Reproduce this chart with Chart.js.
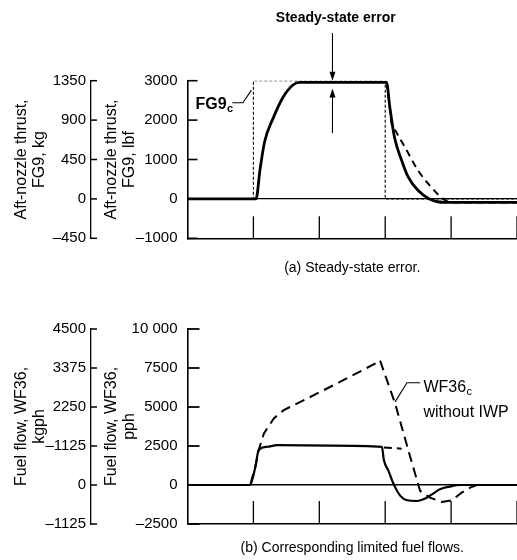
<!DOCTYPE html>
<html>
<head>
<meta charset="utf-8">
<script src="https://cdn.jsdelivr.net/npm/chart.js@4.4.0/dist/chart.umd.min.js"></script>
<style>
  html, body { margin: 0; padding: 0; background: #fff; }
  #wrap { position: relative; width: 517px; height: 560px; overflow: hidden; }
  canvas { position: absolute; left: 0; }
</style>
</head>
<body>
<div id="wrap">
  <canvas id="cTop" width="517" height="280" style="top:0"></canvas>
  <canvas id="cBot" width="517" height="280" style="top:280px"></canvas>
</div>
<script>
'use strict';

// ── Values (time in tick units) ──────────────────────────────────────────────

// (a) aft-nozzle thrust, lbf
var cmdTime       = [0, 1, 1, 3, 3, 5];
var cmdThrust     = [0, 0, 3000, 3000, 0, 0];
var iwpTime       = [0, 1.04, 1.10, 1.17, 1.30, 1.45, 1.60, 1.70, 2.40, 3.02, 3.07, 3.14, 3.25, 3.35, 3.50, 3.67, 3.90, 5];
var iwpThrust     = [0, 0, 737, 1450, 2050, 2580, 2890, 2955, 2955, 2955, 2330, 1570, 975, 550, 211, 0, -90, -90];
var noIwpTime     = [3.02, 3.07, 3.09, 3.17, 3.30, 3.50, 3.70, 3.88, 4.00, 5];
var noIwpThrust   = [2955, 2330, 1990, 1695, 1313, 720, 295, 0, -90, -90];

// (b) fuel flow, pph
var fuelTime      = [0, 0.95, 1.03, 1.08, 1.21, 1.36, 2.17, 2.95, 2.98, 3.05, 3.13, 3.23, 3.33, 3.48, 3.58, 3.71, 3.83, 3.98, 4.14, 5];
var fuelIwp       = [0, 0, 1170, 2240, 2450, 2550, 2520, 2440, 1600, 900, 40, -700, -980, -1025, -920, -600, -270, -100, 0, 0];
var cmdFuelTime   = [0, 0.95, 1.03, 1.08, 1.16, 1.31, 1.46, 1.82, 2.32, 2.90, 2.92, 3.15, 3.38, 3.53, 3.68, 3.86, 4.01, 4.16, 4.29, 4.39, 5];
var cmdFuelNoIwp  = [0, 0, 1170, 2240, 3310, 4270, 4800, 5550, 6620, 7900, 8000, 5230, 1800, -380, -810, -1090, -980, -490, -170, 0, 0];
var fuelTailTime  = [2.98, 3.25];
var fuelTail      = [2400, 2330];

// tick labels as printed
var lbfTicks  = ['\u20131000', '0', '1000', '2000', '3000'];
var kgTicksA  = ['\u2013450', '0', '450', '900', '1350'];
var pphTicks  = ['\u20132500', '0', '2500', '5000', '7500', '10 000'];
var kgphTicks = ['\u20131125', '0', '\u20131125', '2250', '3375', '4500'];

// ── Styling ─────────────────────────────────────────────────────────────────

var SANS   = "'Liberation Sans', Arial, sans-serif";
var NARROW = "'Liberation Sans Narrow', 'Arial Narrow', 'Liberation Sans', Arial, sans-serif";
Chart.defaults.color = '#000';

function pts(xs, ys) {
  return xs.map(function (x, i) { return { x: x, y: ys[i] }; });
}
function fixW(w) { return function (s) { s.width = w; s.paddingTop = 0; s.paddingBottom = 0; }; }
function fixH(h) { return function (s) { s.height = h; s.paddingLeft = 0; s.paddingRight = 0; }; }
function fromList(list) { return function (v, i) { return list[i]; }; }

// short tick marks pointing into the plot / towards the right
var inwardTicks = {
  id: 'inwardTicks',
  afterDraw: function (chart, args, opts) {
    var ctx = chart.ctx;
    ctx.save();
    ctx.strokeStyle = '#000';
    Object.keys(chart.scales).forEach(function (id) {
      var s = chart.scales[id];
      var len = opts.len[id];
      if (!len) return;
      ctx.lineWidth = opts.width[id] || 1.4;
      s.ticks.forEach(function (t) {
        var p = s.getPixelForValue(t.value);
        ctx.beginPath();
        if (s.isHorizontal()) {
          if (t.value === s.min) return;
          ctx.moveTo(p, s.top);
          ctx.lineTo(p, s.top - len);
        } else {
          ctx.moveTo(s.right, p);
          ctx.lineTo(s.right + len, p);
        }
        ctx.stroke();
      });
    });
    ctx.restore();
  }
};

// labels, leader lines and arrows placed in data units
var notesPlugin = {
  id: 'notes',
  afterDraw: function (chart, args, opts) {
    var ctx = chart.ctx, sx = chart.scales.x, sy = chart.scales.y;
    function X(t) { return sx.getPixelForValue(t); }
    function Y(v) { return sy.getPixelForValue(v); }
    ctx.save();
    ctx.fillStyle = '#000';
    ctx.strokeStyle = '#000';
    (opts.items || []).forEach(function (n) {
      if (n.kind === 'text') {
        ctx.font = n.font;
        ctx.textAlign = n.align || 'left';
        ctx.textBaseline = 'middle';
        var x = X(n.t), y = Y(n.v);
        ctx.fillText(n.text, x, y);
        if (n.sub) {
          var w = ctx.measureText(n.text).width;
          ctx.font = n.subFont;
          ctx.textAlign = 'left';
          ctx.fillText(n.sub, (n.align === 'center' ? x + w / 2 : x + w) + 0.5, y + 5);
        }
      } else if (n.kind === 'path') {
        ctx.lineWidth = 1.1;
        ctx.beginPath();
        n.pts.forEach(function (p, i) {
          if (i === 0) ctx.moveTo(X(p[0]), Y(p[1])); else ctx.lineTo(X(p[0]), Y(p[1]));
        });
        ctx.stroke();
      } else if (n.kind === 'arrow') {
        var ax = X(n.t), y0 = Y(n.from), y1 = Y(n.to), dir = y1 > y0 ? 1 : -1;
        ctx.lineWidth = 1.1;
        ctx.beginPath();
        ctx.moveTo(ax, y0);
        ctx.lineTo(ax, y1 - dir * 6);
        ctx.stroke();
        ctx.beginPath();
        ctx.moveTo(ax, y1);
        ctx.lineTo(ax - 3, y1 - dir * 9);
        ctx.lineTo(ax + 3, y1 - dir * 9);
        ctx.closePath();
        ctx.fill();
      }
    });
    ctx.restore();
  }
};

function yTitle(text, pad) {
  return { display: true, text: text, font: { family: SANS, size: 16, lineHeight: 1.1 }, padding: { top: pad, bottom: 0 } };
}
function xTitle(text) {
  return { display: true, text: text, font: { family: NARROW, size: 14, lineHeight: 1.2 }, padding: { top: 0, bottom: 3 } };
}
function zeroLine(ctx) {
  return ctx.tick && ctx.tick.value === 0 ? '#000' : 'rgba(0,0,0,0)';
}

function baseScales(o) {
  return {
    x: {
      type: 'linear', min: 0, max: 5,
      ticks: { display: false, stepSize: 1 },
      grid: { display: false },
      border: { display: true, color: '#000', width: 1.6 },
      title: xTitle(o.caption),
      afterFit: fixH(o.xHeight)
    },
    yOuter: {
      position: 'left', weight: 1, min: o.outer[0], max: o.outer[1],
      ticks: { stepSize: o.outer[2], padding: 5, callback: fromList(o.outerTicks), font: { family: NARROW, size: 15 } },
      grid: { drawOnChartArea: false, drawTicks: false },
      border: { color: '#000', width: 1.3 },
      title: yTitle(o.outerTitle, 13),
      afterFit: fixW(91)
    },
    y: {
      position: 'left', weight: 0, min: o.inner[0], max: o.inner[1],
      ticks: { stepSize: o.inner[2], padding: 10, callback: fromList(o.innerTicks), font: { family: NARROW, size: 15 } },
      grid: { drawOnChartArea: true, drawTicks: false, color: zeroLine, lineWidth: o.zeroWidth },
      border: { color: '#000', width: 1.6 },
      title: yTitle(o.innerTitle, 12),
      afterFit: fixW(96.5)
    }
  };
}

function line(data, width, dash, smooth) {
  return {
    data: data, xAxisID: 'x', yAxisID: 'y',
    borderColor: '#000', borderWidth: width, borderDash: dash || [],
    pointRadius: 0, fill: false, tension: 0,
    cubicInterpolationMode: smooth ? 'monotone' : 'default'
  };
}

// ── (a) Steady-state error ──────────────────────────────────────────────────

new Chart(document.getElementById('cTop'), {
  type: 'line',
  data: {
    datasets: [
      line(pts(noIwpTime, noIwpThrust), 2, [7, 5], true),
      line(pts(iwpTime, iwpThrust), 2.8, [], true),
      line(pts(cmdTime, cmdThrust), 1.1, [3, 2], false)
    ]
  },
  options: {
    responsive: false,
    animation: false,
    layout: { padding: { top: 80.7, right: 0, bottom: 0, left: 0 } },
    plugins: {
      legend: { display: false },
      tooltip: { enabled: false },
      inwardTicks: { len: { x: 22, y: 10, yOuter: 6 }, width: { x: 1.3, y: 1.6, yOuter: 1.5 } },
      notes: {
        items: [
          { kind: 'text', t: 2.25, v: 4600, text: 'Steady-state error', align: 'center', font: 'bold 14px ' + SANS },
          { kind: 'arrow', t: 2.20, from: 4210, to: 3000 },
          { kind: 'arrow', t: 2.20, from: 1670, to: 2800 },
          { kind: 'text', t: 0.12, v: 2400, text: 'FG9', sub: 'c', font: 'bold 16px ' + SANS, subFont: 'bold 11px ' + SANS },
          { kind: 'path', pts: [[0.68, 2440], [0.84, 2440], [0.97, 2760]] }
        ]
      }
    },
    scales: baseScales({
      caption: '(a) Steady-state error.', xHeight: 41.7, zeroWidth: 1.2,
      outer: [-450, 1350, 450], outerTicks: kgTicksA, outerTitle: ['Aft-nozzle thrust,', 'FG9, kg'],
      inner: [-1000, 3000, 1000], innerTicks: lbfTicks, innerTitle: ['Aft-nozzle thrust,', 'FG9, lbf']
    })
  },
  plugins: [inwardTicks, notesPlugin]
});

// ── (b) Corresponding limited fuel flows ────────────────────────────────────

new Chart(document.getElementById('cBot'), {
  type: 'line',
  data: {
    datasets: [
      line(pts(cmdFuelTime, cmdFuelNoIwp), 2, [10, 6], false),
      line(pts(fuelTailTime, fuelTail), 2, [8, 5], false),
      line(pts(fuelTime, fuelIwp), 2.2, [], true)
    ]
  },
  options: {
    responsive: false,
    animation: false,
    layout: { padding: { top: 49, right: 0, bottom: 0, left: 0 } },
    plugins: {
      legend: { display: false },
      tooltip: { enabled: false },
      inwardTicks: { len: { x: 23, y: 12, yOuter: 6 }, width: { x: 1.3, y: 1.8, yOuter: 1.5 } },
      notes: {
        items: [
          { kind: 'text', t: 3.58, v: 6270, text: 'WF36', sub: 'c', font: '16px ' + SANS, subFont: '11px ' + SANS },
          { kind: 'text', t: 3.58, v: 4665, text: 'without IWP', font: '16px ' + SANS },
          { kind: 'path', pts: [[3.53, 6550], [3.33, 6550], [3.15, 5330]] }
        ]
      }
    },
    scales: baseScales({
      caption: '(b) Corresponding limited fuel flows.', xHeight: 36, zeroWidth: 1.5,
      outer: [-1125, 4500, 1125], outerTicks: kgphTicks, outerTitle: ['Fuel flow, WF36,', 'kgph'],
      inner: [-2500, 10000, 2500], innerTicks: pphTicks, innerTitle: ['Fuel flow, WF36,', 'pph']
    })
  },
  plugins: [inwardTicks, notesPlugin]
});
</script>
</body>
</html>
